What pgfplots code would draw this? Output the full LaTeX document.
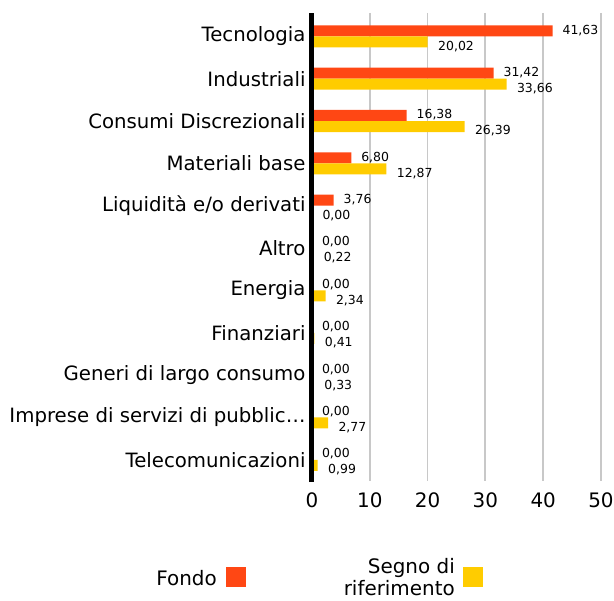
\documentclass[border=0pt]{standalone}
\usepackage{fontspec}
\setmainfont{DejaVu Sans}
\usepackage{pgfplots}
\pgfplotsset{compat=1.18}
\definecolor{fondo}{RGB}{255,71,20}
\definecolor{bench}{RGB}{255,204,0}
\definecolor{gridc}{RGB}{200,200,200}
\begin{document}
\begin{tikzpicture}
\begin{axis}[
  name=ax, at={(0,0)}, anchor=south west,
  scale only axis, width=289bp, height=468bp,
  xbar, bar width=0.26,
  xmin=0, xmax=50, ymin=-0.55, ymax=10.5, y dir=reverse,
  xtick={0,10,...,50}, ytick={0,...,10},
  yticklabels={Tecnologia,Industriali,Consumi Discrezionali,Materiali base,Liquidità e/o derivati,Altro,Energia,Finanziari,Generi di largo consumo,Imprese di servizi di pubblic…,Telecomunicazioni},
  major tick length=0pt,
  xmajorgrids, grid style={gridc, line width=1.8bp},
  axis line style={draw=none},
  /pgf/number format/assume math mode=true,
  xticklabel style={font=\fontsize{20}{22}\selectfont, yshift=-8bp},
  yticklabel style={font=\fontsize{19.8}{22}\selectfont, xshift=-3bp},
  nodes near coords={\pgfmathprintnumber[fixed,fixed zerofill,precision=2,use comma,assume math mode=true]{\pgfplotspointmeta}},
  every node near coord/.append style={font=\fontsize{12.5}{14}\selectfont, anchor=west},
]
\addplot[fill=fondo, draw=none, bar shift=-0.13, every node near coord/.append style={xshift=6.5bp, yshift=0.5bp}] coordinates {
(41.63,0) (31.42,1) (16.38,2) (6.80,3) (3.76,4) (0,5) (0,6) (0,7) (0,8) (0,9) (0,10)};
\addplot[fill=bench, draw=none, bar shift=0.13, every node near coord/.append style={xshift=7bp, yshift=-4.5bp}] coordinates {
(20.02,0) (33.66,1) (26.39,2) (12.87,3) (0,4) (0.22,5) (2.34,6) (0.41,7) (0.33,8) (2.77,9) (0.99,10)};
\end{axis}
\draw[black, line width=4.5bp] (-0.5bp,-1bp) -- (-0.5bp,468bp);
\fill[fondo] (-86bp,-86bp) rectangle (-66bp,-106bp);
\node[anchor=base east, inner sep=0, font=\fontsize{20}{22}\selectfont] at (-95bp,-104bp) {Fondo};
\fill[bench] (151bp,-86bp) rectangle (171bp,-106bp);
\node[anchor=base east, inner sep=0, font=\fontsize{20}{22}\selectfont] at (143bp,-92bp) {Segno di};
\node[anchor=base east, inner sep=0, font=\fontsize{20}{22}\selectfont] at (143bp,-114bp) {riferimento};
\pgfresetboundingbox
\path[use as bounding box] (-312bp,-120bp) rectangle (302bp,481bp);
\end{tikzpicture}
\end{document}
